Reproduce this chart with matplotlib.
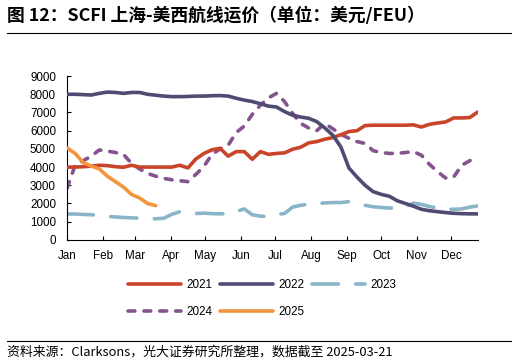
import numpy as np
import matplotlib
matplotlib.use("Agg")
import matplotlib.pyplot as plt
from matplotlib.lines import Line2D

# weekly SCFI Shanghai - US West Coast, USD/FEU
WEEKS = np.arange(52)
Y2021 = [4000, 4000, 4020, 4050, 4100, 4080, 4020, 3990, 4100, 4000, 4000, 4000, 4000,
         4000, 4100, 3950, 4450, 4750, 4950, 5030, 4600, 4850, 4850, 4430, 4850, 4700,
         4750, 4780, 4980, 5090, 5330, 5400, 5530, 5620, 5780, 5950, 6000, 6280, 6300,
         6300, 6300, 6300, 6300, 6320, 6200, 6350, 6420, 6480, 6700, 6700, 6720, 7030]
Y2022 = [8000, 8000, 7980, 7960, 8050, 8120, 8100, 8050, 8100, 8100, 8000, 7950, 7900,
         7870, 7870, 7880, 7900, 7900, 7920, 7930, 7900, 7780, 7680, 7600, 7480, 7350,
         7300, 7050, 6850, 6750, 6680, 6500, 6150, 5750, 5100, 3950, 3450, 3000, 2650,
         2500, 2400, 2150, 2000, 1850, 1680, 1600, 1550, 1500, 1460, 1440, 1430, 1430]
Y2023 = [1420, 1420, 1400, 1380, 1340, 1290, 1260, 1230, 1210, 1190, 1160, 1160, 1190,
         1400, 1550, 1500, 1450, 1470, 1440, 1430, 1430, 1560, 1700, 1380, 1300, 1290,
         1400, 1450, 1800, 1900, 1960, 2000, 2030, 2050, 2050, 2100, 2000, 1900, 1820,
         1780, 1750, 1760, 1820, 2020, 1950, 1830, 1750, 1680, 1680, 1700, 1800, 1870]
Y2024 = [2840, 4100, 4350, 4600, 4940, 4880, 4800, 4700, 4200, 3900, 3650, 3500, 3380,
         3300, 3250, 3200, 3600, 4050, 4700, 5000, 5200, 5900, 6250, 6900, 7400, 7800,
         8050, 7600, 6950, 6400, 6150, 6000, 6400, 6100, 5800, 5580, 5400, 5300, 4900,
         4800, 4750, 4750, 4800, 4850, 4650, 4150, 3750, 3400, 3450, 4100, 4350, 4560]
Y2025 = [5050, 4750, 4250, 4050, 3900, 3500, 3200, 2900, 2500, 2300, 2000, 1880]

MONTHS = ["Jan", "Feb", "Mar", "Apr", "May", "Jun",
          "Jul", "Aug", "Sep", "Oct", "Nov", "Dec"]
MONTH_START_DAY = [0, 31, 59, 90, 120, 151, 181, 212, 243, 273, 304, 334]

CJK = ["Noto Sans CJK SC", "DejaVu Sans"]
plt.rcParams["font.family"] = ["Liberation Sans", "DejaVu Sans"]

fig = plt.figure(figsize=(5.16, 3.64), dpi=100)
ax = fig.add_axes([0.130, 0.341, 0.796, 0.450])

lw = 2.6
ax.plot(WEEKS, Y2021, color="#C9452A", lw=lw, solid_capstyle="round", label="2021", zorder=3)
ax.plot(WEEKS, Y2022, color="#4F4B72", lw=lw, solid_capstyle="round", label="2022", zorder=3)
ax.plot(WEEKS, Y2023, color="#8AB5C9", lw=lw, dashes=(7.3, 4.8), dash_capstyle="round",
        label="2023", zorder=2)
ax.plot(WEEKS, Y2024, color="#85548F", lw=lw, dashes=(1.9, 2.5), dash_capstyle="round",
        label="2024", zorder=2)
ax.plot(WEEKS[:len(Y2025)], Y2025, color="#F2953C", lw=lw, solid_capstyle="round",
        label="2025", zorder=4)

ax.set_xlim(0, 51)
ax.set_ylim(0, 9000)
ax.set_yticks(np.arange(0, 9001, 1000))
ax.set_xticks([d / 7 for d in MONTH_START_DAY])
ax.set_xticklabels(MONTHS)
ax.tick_params(direction="in", length=3, width=0.8, labelsize=8.4)
ax.tick_params(axis="y", pad=8)
ax.tick_params(axis="x", pad=7)
for s in ["top", "right"]:
    ax.spines[s].set_visible(False)
for s in ["left", "bottom"]:
    ax.spines[s].set_linewidth(0.8)

# legend laid out row by row: 2021 2022 2023 / 2024 2025
h, l = ax.get_legend_handles_labels()
order = [0, 3, 1, 4, 2]
fig.legend([h[i] for i in order], [l[i] for i in order], ncol=3,
           loc="center", bbox_to_anchor=(0.508, 0.180), frameon=False,
           fontsize=8.4, handlelength=4.5, handletextpad=0.45,
           columnspacing=0.7, labelspacing=1.35)

fig.text(0.014, 0.957, "图 12：SCFI 上海-美西航线运价（单位：美元/FEU）",
         family=CJK, fontsize=12.8, fontweight="bold", va="center", ha="left")
fig.add_artist(Line2D([0.014, 0.99], [0.909, 0.909], color="black", lw=0.8))
fig.add_artist(Line2D([0.014, 0.99], [0.063, 0.063], color="black", lw=0.8))
fig.text(0.014, 0.032, "资料来源：Clarksons，光大证券研究所整理，数据截至 2025-03-21",
         family=CJK, fontsize=9.3, va="center", ha="left")

fig.savefig("out.png", dpi=100)
plt.close(fig)
